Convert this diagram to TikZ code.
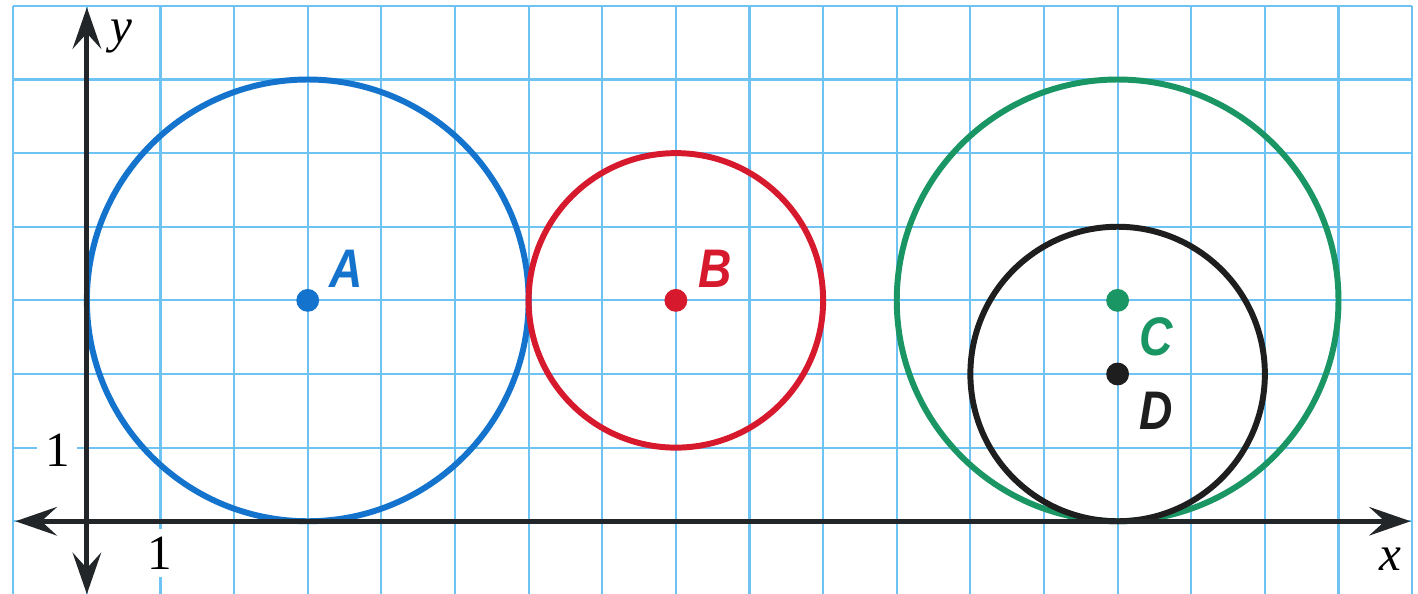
\documentclass[tikz,border=0pt]{standalone}
\usepackage{fontspec}
\setmainfont{Liberation Serif}
\newfontfamily\labfont{Liberation Sans}
\usetikzlibrary{arrows.meta}
\definecolor{gridblue}{RGB}{110,195,242}
\definecolor{cblue}{RGB}{20,115,205}
\definecolor{cred}{RGB}{215,25,45}
\definecolor{cgreen}{RGB}{25,150,100}
\definecolor{cblack}{RGB}{30,30,30}
\definecolor{axisgray}{RGB}{35,38,40}
\tikzset{
  gridline/.style={draw=gridblue, line width=0.8pt},
  circ/.style={line width=2.3pt},
  axisline/.style={draw=axisgray, line width=2pt, {Stealth[length=16pt,width=11pt,inset=6pt]}-{Stealth[length=16pt,width=11pt,inset=6pt]}},
  ptdot/.style={circle, inner sep=0pt, minimum size=0.31cm},
  ptlabel/.style={font=\labfont\bfseries\itshape\fontsize{21}{21}\selectfont, xscale=0.85},
  axislabel/.style={font=\itshape\fontsize{19}{19}\selectfont, inner sep=1pt},
  ticklabel/.style={font=\fontsize{19}{19}\selectfont, fill=white, inner sep=3pt}
}
\begin{document}
\begin{tikzpicture}
\useasboundingbox (-1.18,-0.98) rectangle (18.08,7.08);
\begin{scope}
\clip (-1.18,-0.98) rectangle (18.08,7.08);
\fill[white] (-1.18,-0.98) rectangle (18.08,7.08);
\foreach \x in {-1,...,18} \draw[gridline] (\x,-1.2) -- (\x,7);
\foreach \y in {-1,...,7} \draw[gridline] (-1,\y) -- (18,\y);
\end{scope}
% tick labels with white background
\node[ticklabel] (t1y) at (-0.4,0.97) {1};
\node[ticklabel] (t1x) at (0.99,-0.43) {1};
% circles
\draw[circ, cblue] (3,3) circle (3);
\draw[circ, cred] (8,3) circle (2);
\draw[circ, cgreen] (14,3) circle (3);
\draw[circ, cblack] (14,2) circle (2);
% axes
\coordinate (xl) at (-0.97,0);
\coordinate (xr) at (17.98,0);
\coordinate (yb) at (0,-0.99);
\coordinate (yt) at (0,6.98);
\draw[axisline] (xl) -- (xr);
\draw[axisline] (yb) -- (yt);
\node[axislabel] (ylab) at (0.47,6.58) {y};
\node[axislabel] (xlab) at (17.7,-0.52) {x};
% centres
\node[ptdot, fill=cblue] (A) at (3,3) {};
\node[ptdot, fill=cred] (B) at (8,3) {};
\node[ptdot, fill=cgreen] (C) at (14,3) {};
\node[ptdot, fill=cblack] (D) at (14,2) {};
\node[ptlabel, text=cblue] (Al) at (3.52,3.43) {A};
\node[ptlabel, text=cred] (Bl) at (8.53,3.43) {B};
\node[ptlabel, text=cgreen] (Cl) at (14.53,2.5) {C};
\node[ptlabel, text=cblack] (Dl) at (14.53,1.5) {D};
\end{tikzpicture}
\end{document}
